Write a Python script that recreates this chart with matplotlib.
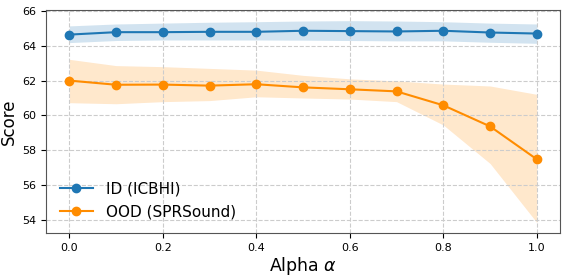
import matplotlib
matplotlib.use("Agg")
import matplotlib.pyplot as plt
import numpy as np

alpha = [0.0, 0.1, 0.2, 0.3, 0.4, 0.5, 0.6, 0.7, 0.8, 0.9, 1.0]
id_mean = [64.64, 64.78, 64.78, 64.8, 64.8, 64.86, 64.84, 64.82, 64.86, 64.76, 64.7]
id_upper = [65.14, 65.25, 65.3, 65.35, 65.38, 65.42, 65.44, 65.42, 65.38, 65.3, 65.25]
id_lower = [64.18, 64.3, 64.33, 64.33, 64.33, 64.32, 64.3, 64.28, 64.28, 64.2, 64.14]
ood_mean = [62.0, 61.76, 61.77, 61.71, 61.79, 61.61, 61.5, 61.38, 60.58, 59.37, 57.48]
ood_upper = [63.22, 62.86, 62.8, 62.7, 62.6, 62.3, 62.1, 61.98, 61.8, 61.69, 61.21]
ood_lower = [60.73, 60.67, 60.79, 60.85, 61.07, 61.0, 60.94, 60.79, 59.45, 57.24, 53.85]

fig = plt.figure(figsize=(5.67, 2.79), dpi=100)
ax = fig.add_axes([0.081, 0.165, 0.907, 0.799])

blue = '#1f77b4'
orange = '#ff8c00'
ax.fill_between(alpha, id_lower, id_upper, color=blue, alpha=0.2, linewidth=0)
ax.fill_between(alpha, ood_lower, ood_upper, color=orange, alpha=0.2, linewidth=0)
ax.plot(alpha, id_mean, '-o', color=blue, markersize=6, linewidth=1.5, label='ID (ICBHI)')
ax.plot(alpha, ood_mean, '-o', color=orange, markersize=6, linewidth=1.5, label='OOD (SPRSound)')

ax.set_ylim(53.25, 66.05)
ax.set_xlim(-0.05, 1.05)
ax.set_xticks([0.0, 0.2, 0.4, 0.6, 0.8, 1.0])
ax.set_yticks([54, 56, 58, 60, 62, 64, 66])
ax.tick_params(labelsize=8)
ax.grid(True, linestyle='--', color='#cccccc', linewidth=0.8)
ax.set_xlabel('Alpha $\\alpha$', fontsize=12.5, labelpad=2)
ax.set_ylabel('Score', fontsize=12, labelpad=3)
for s in ax.spines.values():
    s.set_color('#555555')
ax.legend(loc='lower left', fontsize=11, frameon=False, handlelength=2.2)

fig.savefig('out.png', dpi=100)
